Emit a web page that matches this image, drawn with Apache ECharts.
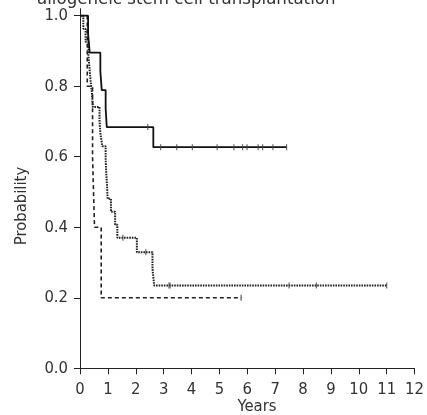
<!DOCTYPE html>
<html>
<head>
<meta charset="utf-8">
<style>html,body{margin:0;padding:0;background:#fff;}#c{width:427px;height:415px;}</style>
<script src="https://cdn.jsdelivr.net/npm/echarts@6/dist/echarts.min.js"></script>
</head>
<body>
<div id="c"></div>
<script>
// Group 1 (solid)
const solidTimes = [0, 0.29, 0.35, 0.73, 0.78, 0.92, 0.96, 2.63, 7.41];
const solidSurv  = [1, 0.947, 0.895, 0.842, 0.789, 0.737, 0.684, 0.627, 0.627];
const solidCensor = [2.43, 2.89, 3.47, 4.03, 4.92, 5.52, 5.83, 5.99, 6.39, 6.55, 6.92, 7.41];
// Group 2 (dotted)
const dotTimes = [0, 0.12, 0.2, 0.3, 0.34, 0.38, 0.43, 0.46, 0.70, 0.73, 0.80, 0.92, 0.94, 0.97, 0.99, 1.11, 1.26, 1.34, 2.04, 2.60, 2.66, 11.0];
const dotSurv  = [1, 0.963, 0.926, 0.889, 0.852, 0.815, 0.778, 0.741, 0.704, 0.667, 0.630, 0.593, 0.556, 0.519, 0.481, 0.444, 0.407, 0.370, 0.329, 0.282, 0.235, 0.235];
const dotCensor = [1.54, 2.36, 3.19, 3.23, 7.5, 8.48, 11.0];
// Group 3 (dashed)
const dashTimes = [0, 0.26, 0.45, 0.52, 0.76, 5.78];
const dashSurv  = [1, 0.8, 0.6, 0.4, 0.2, 0.2];
const dashCensor = [5.78];
// Axis ticks
const xTicks = [0,1,2,3,4,5,6,7,8,9,10,11,12];
const yTicks = [0, 0.2, 0.4, 0.6, 0.8, 1.0];
const titleText = 'allogeneic stem cell transplantation';
const xName = 'Years';
const yName = 'Probability';

const FONT = "'Liberation Sans Narrow', 'DejaVu Sans Condensed', sans-serif";

function pairs(ts, ss){ return ts.map((t,i)=>[t, ss[i]]); }
function lookup(ts, ss, t){ let v = ss[0]; for (let i=0;i<ts.length;i++){ if (ts[i] <= t) v = ss[i]; } return v; }
function censorPts(cs, ts, ss){ return cs.map(t=>[t, lookup(ts, ss, t)]); }

const chart = echarts.init(document.getElementById('c'), null, {renderer:'canvas'});
function stepSeries(data, color, type, width, z){
  return {type:'line', step:'end', data, showSymbol:false, symbol:'none', z,
    lineStyle:{color, type, width}, animation:false, silent:true};
}
function censorSeries(data, color, z){
  return {type:'scatter', data, symbol:'rect', symbolSize:[1.2,6], z,
    itemStyle:{color}, animation:false, silent:true};
}
chart.setOption({
  animation:false,
  grid:{left:80, right:4, top:8.65, bottom:46.7, containLabel:false},
  xAxis:{type:'value', min:0, max:12, interval:1,
    axisLine:{show:true, onZero:false, lineStyle:{color:'#222', width:1}},
    axisTick:{show:true, length:6, lineStyle:{color:'#222'}},
    axisLabel:{fontFamily:FONT, fontSize:16.5, color:'#333', margin:13,
      formatter:v=>xTicks.indexOf(v)>=0?String(v):''},
    splitLine:{show:false}},
  yAxis:{type:'value', min:0, max:1.02,
    axisLine:{show:true, onZero:false, lineStyle:{color:'#222', width:1}},
    axisTick:{show:true, length:6, lineStyle:{color:'#222'}, customValues:yTicks},
    axisLabel:{fontFamily:FONT, fontSize:16.5, color:'#333', margin:12, customValues:yTicks,
      formatter:v=>v.toFixed(1)},
    splitLine:{show:false}},
  graphic:[
    {type:'text', left:37, top:-10, style:{text:titleText, font:'18.5px '+FONT, fill:'#333'}},
    {type:'text', x:257, y:407, style:{text:xName, font:'16.5px '+FONT, fill:'#333', textAlign:'center', textVerticalAlign:'middle'}},
    {type:'text', x:22, y:206, rotation:Math.PI/2, style:{text:yName, font:'16.5px '+FONT, fill:'#333', textAlign:'center', textVerticalAlign:'middle'}}
  ],
  series:[
    stepSeries(pairs(dashTimes, dashSurv), '#222', [4,3], 1.6, 2),
    stepSeries(pairs(dotTimes, dotSurv), '#222', [1.6,1], 2, 3),
    stepSeries(pairs(solidTimes, solidSurv), '#111', 'solid', 1.8, 4),
    censorSeries(censorPts(dashCensor, dashTimes, dashSurv), '#333', 5),
    censorSeries(censorPts(dotCensor, dotTimes, dotSurv), '#444', 5),
    censorSeries(censorPts(solidCensor, solidTimes, solidSurv), '#444', 5)
  ]
});
</script>
</body>
</html>
